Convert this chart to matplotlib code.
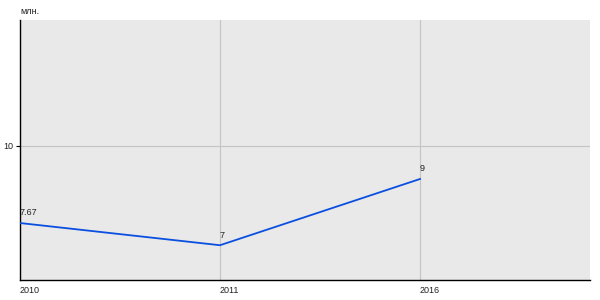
import matplotlib
matplotlib.use("Agg")
import matplotlib.pyplot as plt

categories = ["2010", "2011", "2016"]
values = [7.67, 7, 9]
value_labels = ["7.67", "7", "9"]
y_ticks = [10]
unit = "млн."

fig = plt.figure(figsize=(6, 3), dpi=100)
ax = fig.add_axes([20/600, 20/300, 570/600, 260/300])
ax.set_facecolor("#e9e9e9")
x = list(range(len(categories)))
ax.plot(x, values, color="#0a4fe0", lw=1.3, zorder=3)
for xi, v, lab in zip(x, values, value_labels):
    ax.annotate(lab, (xi, v), xytext=(0, 4), textcoords="offset points",
                ha="left", va="bottom", fontsize=6.5, color="#222222",
                fontfamily="Liberation Sans")
ax.set_xlim(0, 2.85)
ax.set_ylim(5.95, 13.8)
ax.set_xticks(x)
ax.set_xticklabels(categories, fontsize=6.5, fontfamily="Liberation Sans", ha="left",
                   color="#222222")
ax.set_yticks(y_ticks)
ax.set_yticklabels([str(t) for t in y_ticks], fontsize=6.5, fontfamily="Liberation Sans",
                   color="#222222")
ax.tick_params(axis="x", length=0, pad=4)
ax.tick_params(axis="y", length=3, width=0.8, pad=2)
ax.grid(True, color="#c4c4c4", lw=0.8)
ax.set_axisbelow(True)
for s in ["top", "right"]:
    ax.spines[s].set_visible(False)
ax.spines["left"].set_linewidth(1.0)
ax.spines["bottom"].set_linewidth(1.0)
fig.text(20/600, 1 - 12/300, unit, fontsize=6.5, fontfamily="Liberation Sans",
         ha="left", va="center", color="#222222")
fig.savefig("out.png", dpi=100)
